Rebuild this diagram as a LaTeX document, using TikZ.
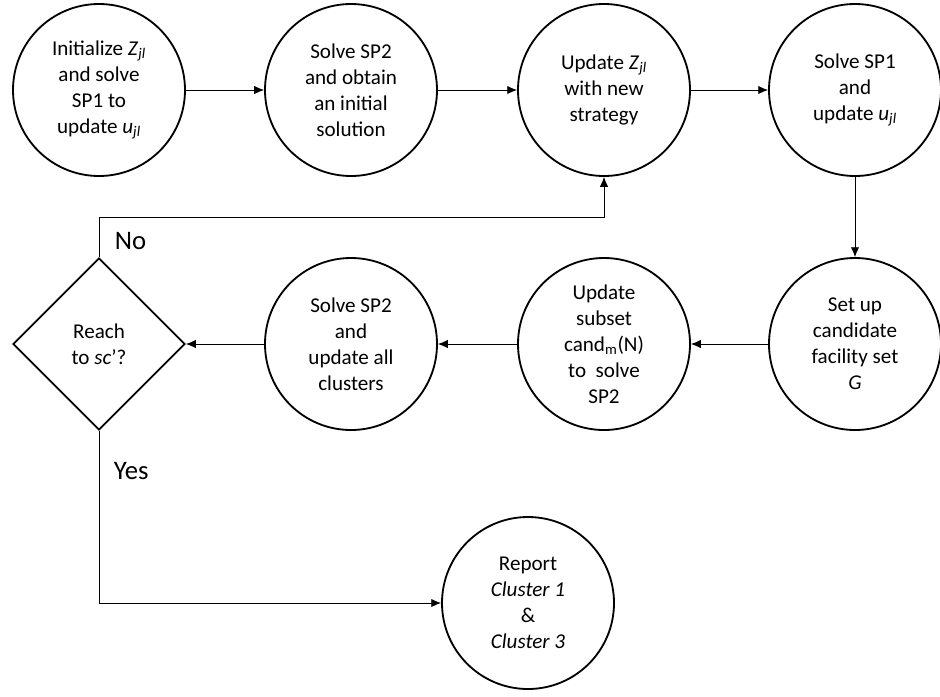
\documentclass[tikz,border=0pt]{standalone}
\usepackage{fontspec}
\setmainfont{Carlito}
\usetikzlibrary{shapes.geometric, arrows.meta}

\begin{document}
\begin{tikzpicture}[
        proc/.style={circle, draw, line width=1.3pt, minimum size=4.3cm, inner sep=0pt,
            align=center, font=\fontsize{15}{18.5}\selectfont},
        decide/.style={diamond, draw, line width=1.3pt, minimum width=4.3cm, minimum height=4.3cm,
            inner sep=0pt, align=center, font=\fontsize{15}{18.5}\selectfont},
        flow/.style={-{Latex[length=7pt,width=6pt]}, line width=0.7pt},
        answer/.style={font=\fontsize{19}{22}\selectfont}
    ]
    % Fixed Bounding Box (940 x 696 px)
    \useasboundingbox (0,0) rectangle (23.5,-17.4);

    % Top row
    \node[proc] (init) at (2.475,-2.25) {Initialize \textit{Z}\textsubscript{\textit{jl}}\\and solve\\SP1 to\\update \textit{u}\textsubscript{\textit{jl}}};
    \node[proc] (solvea) at (8.775,-2.25) {Solve SP2\\and obtain\\an initial\\solution};
    \node[proc] (updz) at (15.1,-2.25) {Update \textit{Z}\textsubscript{\textit{jl}}\\with new\\strategy};
    \node[proc] (solveb) at (21.375,-2.25) {Solve SP1\\and\\update \textit{u}\textsubscript{\textit{jl}}};

    % Second row
    \node[proc] (setup) at (21.375,-8.6) {Set up\\candidate\\facility set\\\textit{G}};
    \node[proc] (subset) at (15.1,-8.6) {Update\\subset\\cand\textsubscript{m}(N)\\to\ \ solve\\SP2};
    \node[proc] (solvec) at (8.775,-8.6) {Solve SP2\\and\\update all\\clusters};
    \node[decide] (reach) at (2.475,-8.6) {Reach\\to \textit{sc}'?};

    % Result
    \node[proc] (report) at (13.2,-15.075) {Report\\\textit{Cluster 1}\\\&\\\textit{Cluster 3}};

    % Connectors
    \draw[flow] (init) -- (solvea);
    \draw[flow] (solvea) -- (updz);
    \draw[flow] (updz) -- (solveb);
    \draw[flow] (solveb) -- (setup);
    \draw[flow] (setup) -- (subset);
    \draw[flow] (subset) -- (solvec);
    \draw[flow] (solvec) -- (reach);

    \coordinate (noturn) at (2.475,-5.425);
    \draw[flow] (reach.north) -- (noturn) -| (updz.south);
    \draw[flow] (reach.south) |- (report.west);

    \node[answer, anchor=west] (no) at (2.75,-6.03) {No};
    \node[answer, anchor=west] (yes) at (2.72,-11.78) {Yes};
\end{tikzpicture}
\end{document}
